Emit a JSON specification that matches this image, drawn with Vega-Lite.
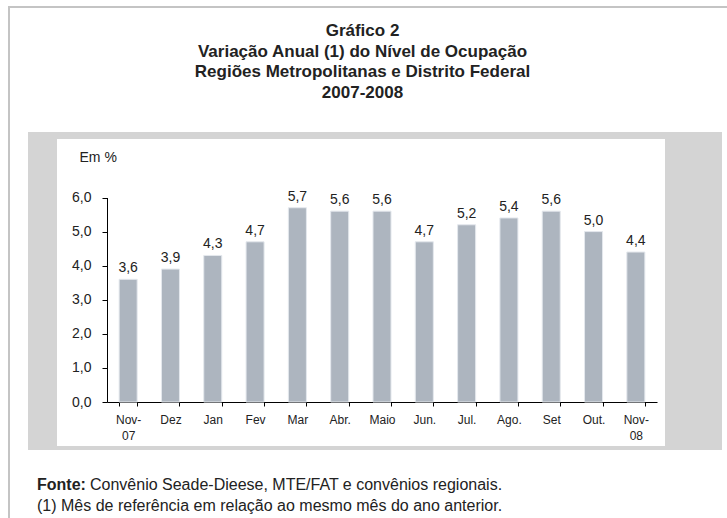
{
  "$schema": "https://vega.github.io/schema/vega-lite/v6.json",
  "padding": {"left": 8, "top": 6, "right": 0, "bottom": 0},
  "background": "white",
  "spacing": 0,
  "config": {
    "view": {"stroke": null},
    "font": "Liberation Sans",
    "locale": {"number": {"decimal": ",", "thousands": ".", "grouping": [3], "currency": ["R$", ""]}}
  },
  "hconcat": [
    {"width": 2, "height": 512, "view": {"fill": "#c4c4c4"}, "data": {"values": []}, "mark": "point"},
    {
      "spacing": 0,
      "vconcat": [
        {"width": 717, "height": 2, "view": {"fill": "#c4c4c4"}, "data": {"values": []}, "mark": "point"},
        {
          "width": 717, "height": 124, "data": {"values": []}, "mark": "point",
          "title": {
            "text": ["Gráfico 2", "Variação Anual (1) do Nível de Ocupação", "Regiões Metropolitanas e Distrito Federal", "2007-2008"],
            "orient": "bottom", "anchor": "middle", "frame": "group", "baseline": "top",
            "offset": -109, "dx": -6, "fontSize": 17, "fontWeight": "bold", "lineHeight": 20.5, "color": "#222222"
          }
        },
        {
          "spacing": 0,
          "hconcat": [
            {"width": 18, "height": 318, "data": {"values": []}, "mark": "point"},
            {"width": 29, "height": 318, "view": {"fill": "#d4d4d4"}, "data": {"values": []}, "mark": "point"},
            {
              "spacing": 0,
              "vconcat": [
                {"width": 608, "height": 7, "view": {"fill": "#d4d4d4"}, "data": {"values": []}, "mark": "point"},
                {
                  "width": 608, "height": 307,
                  "view": {"fill": "white"},
                  "data": {"values": [
                    {"mes": "Nov-07", "v": 3.6},
                    {"mes": "Dez", "v": 3.9},
                    {"mes": "Jan", "v": 4.3},
                    {"mes": "Fev", "v": 4.7},
                    {"mes": "Mar", "v": 5.7},
                    {"mes": "Abr.", "v": 5.6},
                    {"mes": "Maio", "v": 5.6},
                    {"mes": "Jun.", "v": 4.7},
                    {"mes": "Jul.", "v": 5.2},
                    {"mes": "Ago.", "v": 5.4},
                    {"mes": "Set", "v": 5.6},
                    {"mes": "Out.", "v": 5.0},
                    {"mes": "Nov-08", "v": 4.4}
                  ]},
                  "encoding": {
                    "x": {
                      "field": "mes", "type": "nominal", "sort": null,
                      "scale": {"range": [50, 600], "paddingInner": 0.574, "paddingOuter": 0.287},
                      "axis": {
                        "title": null, "orient": "bottom", "offset": -44,
                        "domainColor": "#000000", "domainWidth": 1,
                        "tickColor": "#000000", "tickSize": 4, "tickBand": "extent",
                        "labelAngle": 0, "labelFontSize": 12, "labelColor": "#222222",
                        "labelPadding": 8, "labelLineHeight": 16, "labelBaseline": "top",
                        "labelExpr": "datum.value == 'Nov-07' ? ['Nov-', '07'] : datum.value == 'Nov-08' ? ['Nov-', '08'] : datum.value"
                      }
                    },
                    "y": {
                      "field": "v", "type": "quantitative",
                      "scale": {"domain": [0, 6], "range": [263, 58.5], "nice": false},
                      "axis": {
                        "title": "Em %", "orient": "left", "offset": -50,
                        "values": [0, 1, 2, 3, 4, 5, 6], "format": ".1f", "grid": false,
                        "domainColor": "#000000", "domainWidth": 1,
                        "tickColor": "#000000", "tickSize": 5,
                        "labelPadding": 11, "labelFontSize": 14, "labelColor": "#222222",
                        "titleAngle": 0, "titleAlign": "left", "titleBaseline": "middle",
                        "titleX": -28, "titleY": 18, "titleFontSize": 14, "titleFontWeight": "normal", "titleColor": "#222222"
                      }
                    }
                  },
                  "layer": [
                    {"mark": {"type": "bar", "color": "#adb5bf", "stroke": "#e4e8ed", "strokeWidth": 1}},
                    {
                      "mark": {"type": "text", "baseline": "bottom", "dy": -4, "fontSize": 14, "color": "#222222"},
                      "encoding": {"text": {"field": "v", "type": "quantitative", "format": ".1f"}}
                    }
                  ]
                },
                {"width": 608, "height": 4, "view": {"fill": "#d4d4d4"}, "data": {"values": []}, "mark": "point"}
              ]
            },
            {"width": 57, "height": 318, "view": {"fill": "#d4d4d4"}, "data": {"values": []}, "mark": "point"},
            {"width": 5, "height": 318, "data": {"values": []}, "mark": "point"}
          ]
        },
        {
          "spacing": 0,
          "bounds": "flush",
          "hconcat": [
            {"width": 27, "height": 68, "data": {"values": []}, "mark": "point"},
            {
              "width": 53, "height": 68, "data": {"values": []}, "mark": "point",
              "title": {
                "text": "Fonte:", "subtitle": "(1) Mês de referência em relação ao mesmo mês do ano anterior.",
                "orient": "bottom", "anchor": "start", "frame": "group", "baseline": "top",
                "offset": -41, "fontSize": 16, "fontWeight": "bold", "color": "#222222",
                "subtitleFontSize": 16, "subtitleColor": "#222222", "subtitlePadding": 5, "subtitleFont": "Liberation Sans"
              }
            },
            {
              "width": 637, "height": 68, "data": {"values": []}, "mark": "point",
              "title": {
                "text": "Convênio Seade-Dieese, MTE/FAT e convênios regionais.",
                "orient": "bottom", "anchor": "start", "frame": "group", "baseline": "top",
                "offset": -41, "fontSize": 16, "fontWeight": "normal", "color": "#222222"
              }
            }
          ]
        }
      ]
    }
  ]
}
